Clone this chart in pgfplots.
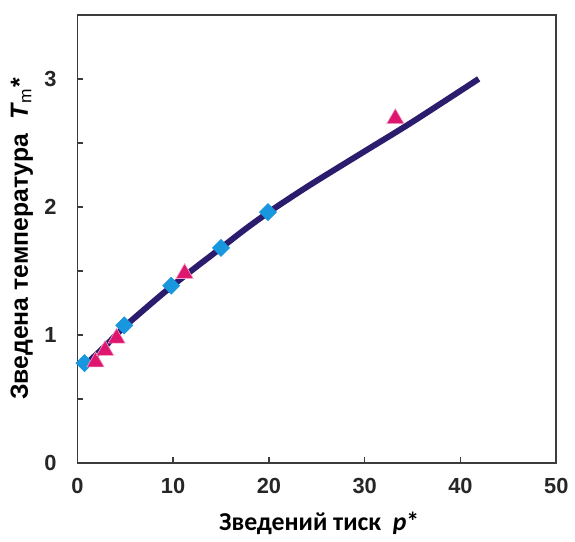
\documentclass[border=0pt]{standalone}
\usepackage{fontspec}
\setmainfont{Liberation Sans}
\newfontfamily\carlito{Carlito}
\usepackage{pgfplots}
\pgfplotsset{compat=1.18}
\definecolor{curve}{RGB}{44,28,110}
\definecolor{dia}{RGB}{24,150,222}
\definecolor{tri}{RGB}{222,22,110}
\definecolor{axgray}{RGB}{60,60,60}
\begin{document}
\begin{tikzpicture}
\path (-39pt,-37.5pt) rectangle (248.5pt,233.5pt);
\begin{axis}[
    at={(0,0)}, anchor=south west,
    scale only axis, width=241.5pt, height=226pt,
    xmin=0, xmax=50, ymin=0, ymax=3.5,
    xtick={0,10,20,30,40,50}, ytick={0,1,2,3},
    minor ytick={0.5,1.5,2.5},
    xtick pos=left, ytick pos=left,
    tick align=inside,
    major tick length=3pt, minor tick length=3pt,
    axis line style={axgray, line width=0.8pt},
    every tick/.style={axgray, line width=0.8pt},
    /pgf/number format/assume math mode=true,
    ticklabel style={font=\fontsize{11}{13}\selectfont\bfseries, text=black!85},
    xticklabel style={yshift=-4pt},
    yticklabel style={xshift=-7pt},
    xlabel={\carlito\bfseries Зведений тиск\ \ \textit{p}*},
    xlabel style={font=\fontsize{13}{15}\selectfont, at={(axis description cs:0.505,-0.135)}, anchor=center},
    ylabel={\bfseries Зведена температура\ \ \textit{T}\textsubscript{\mdseries m}*},
    ylabel style={font=\fontsize{12.5}{15}\selectfont, at={(axis description cs:-0.116,0.5)}, anchor=center, rotate=0},
    clip=false,
]
\addplot[curve, line width=3pt, smooth, tension=0.5] coordinates {
    (0.8,0.765) (3,0.92) (5,1.07) (10,1.39) (15,1.68) (17.5,1.825) (20,1.96)
    (22.5,2.085) (25,2.205) (30,2.435) (35,2.665) (41.9,3.00)
};
\addplot[only marks, mark=square*, mark size=3pt, color=dia,
    mark options={rotate=45}] coordinates {
    (0.75,0.78) (4.9,1.075) (9.8,1.385) (15.0,1.68) (19.9,1.96)
};
\addplot[only marks, mark=triangle*, mark size=5pt, color=tri,
    mark options={draw=tri!40, line width=0.3pt, fill=tri}] coordinates {
    (1.9,0.79) (2.9,0.88) (4.1,0.975) (11.2,1.48) (33.2,2.69)
};
\end{axis}
\end{tikzpicture}
\end{document}
